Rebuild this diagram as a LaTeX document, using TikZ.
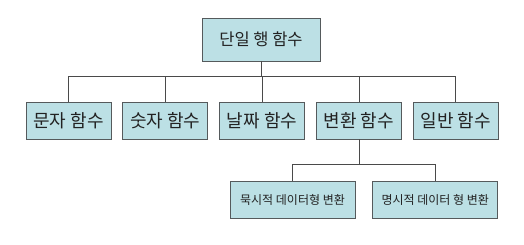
\documentclass[tikz,border=0pt]{standalone}
\usepackage{fontspec}
\setmainfont{Noto Sans CJK KR}
\usetikzlibrary{positioning}
\definecolor{BoxFill}{HTML}{BCE0E5}
\definecolor{BoxLine}{HTML}{555A5C}
\definecolor{Wire}{HTML}{4A4A4A}
\definecolor{Ink}{HTML}{222222}
\tikzset{
  topbox/.style={draw=BoxLine,fill=BoxFill,line width=.8pt,minimum width=118pt,minimum height=43pt,align=center,text=Ink,inner sep=0pt,font=\fontsize{16.5}{18}\selectfont},
  funcbox/.style={draw=BoxLine,fill=BoxFill,line width=.8pt,minimum width=85pt,minimum height=37pt,align=center,text=Ink,inner sep=0pt,font=\fontsize{18}{20}\selectfont},
  subbox/.style={draw=BoxLine,fill=BoxFill,line width=.8pt,minimum width=125pt,minimum height=37pt,align=center,text=Ink,inner sep=0pt,font=\fontsize{12}{14}\selectfont},
  tree/.style={draw=Wire,line width=.8pt}
}
\begin{document}
\begin{tikzpicture}[x=1pt,y=-1pt,node distance=11pt]
  \useasboundingbox (0,0) rectangle (524,245);
  \node[topbox] (single) at (261,39.5) {단일 행 함수};
  \node[funcbox] (char) at (68.5,120.5) {문자 함수};
  \node[funcbox,right=of char] (number) {숫자 함수};
  \node[funcbox,right=of number] (date) {날짜 함수};
  \node[funcbox,right=of date] (convert) {변환 함수};
  \node[funcbox,right=of convert] (general) {일반 함수};
  \node[subbox] (implicit) at (292.5,199.5) {묵시적 데이터형 변환};
  \node[subbox,right=17pt of implicit] (explicit) {명시적 데이터 형 변환};
  \coordinate (bus) at (0,76);
  \coordinate (subbus) at (0,164);
  \draw[tree] (single.south) -- (single.south |- bus);
  \draw[tree] (char.north) |- (general.north |- bus) -- (general.north);
  \foreach \n in {number,date,convert}
    \draw[tree] (\n.north) -- (\n.north |- bus);
  \draw[tree] (convert.south) -- (convert.south |- subbus);
  \draw[tree] (implicit.north) |- (explicit.north |- subbus) -- (explicit.north);
\end{tikzpicture}
\end{document}
